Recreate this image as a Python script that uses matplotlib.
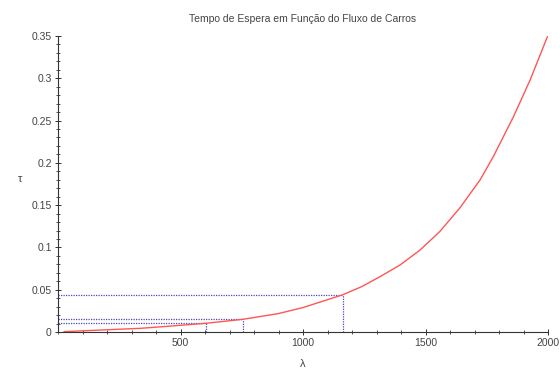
import matplotlib
matplotlib.use('Agg')
import matplotlib.pyplot as plt
from matplotlib.ticker import MultipleLocator, FixedLocator

plt.rcParams['font.family'] = ['Liberation Sans', 'DejaVu Sans']

# values
lam = [25, 150, 335, 450, 604, 755, 900, 1000, 1163, 1240, 1314, 1396,
       1478, 1559, 1641, 1723, 1777, 1859, 1927, 2000]
tau = [0.0004, 0.002, 0.0043, 0.0068, 0.0103, 0.015, 0.0218, 0.0289, 0.0441,
       0.0537, 0.0654, 0.0792, 0.097, 0.119, 0.147, 0.180, 0.2075, 0.2546,
       0.298, 0.351]

# guide lines (lambda, tau)
guide_lam = [604, 755, 1163]
guide_tau = [0.0103, 0.015, 0.0441]

xticks = [500, 1000, 1500, 2000]
yticks = [0, 0.05, 0.1, 0.15, 0.2, 0.25, 0.3, 0.35]
ylabels = ['0', '0.05', '0.1', '0.15', '0.2', '0.25', '0.3', '0.35']

txt = '#444444'

fig = plt.figure(figsize=(5.6, 3.69), dpi=100)
ax = fig.add_axes([0.1036, 0.1003, 0.875, 0.8021])

for gl, gt in zip(guide_lam, guide_tau):
    ax.plot([0, gl], [gt, gt], color='#4848c0', lw=0.9, ls=(0, (1, 1)))
    ax.plot([gl, gl], [0, gt], color='#4848c0', lw=0.9, ls=(0, (1, 1)))

ax.plot(lam, tau, color='#ff5555', lw=1.0)

ax.set_xlim(0, 2000)
ax.set_ylim(0, 0.35)
for s in ['top', 'right']:
    ax.spines[s].set_visible(False)
for s in ['left', 'bottom']:
    ax.spines[s].set_color('#333333')
    ax.spines[s].set_linewidth(0.8)

ax.xaxis.set_major_locator(FixedLocator(xticks))
ax.xaxis.set_minor_locator(MultipleLocator(100))
ax.yaxis.set_major_locator(FixedLocator(yticks))
ax.set_yticklabels(ylabels)
ax.yaxis.set_minor_locator(MultipleLocator(0.01))
ax.tick_params(which='major', direction='inout', length=5, width=0.7,
               color='#333333', labelsize=7.5, labelcolor=txt, pad=2)
ax.tick_params(which='minor', direction='inout', length=3, width=0.6,
               color='#333333')

ax.set_title('Tempo de Espera em Função do Fluxo de Carros', fontsize=7.5,
             color=txt, pad=10)
ax.set_xlabel('λ', fontsize=8, color=txt, labelpad=8)
ax.set_ylabel('τ', fontsize=8, color=txt, rotation=0, labelpad=8)

fig.savefig('out.png', dpi=100)
